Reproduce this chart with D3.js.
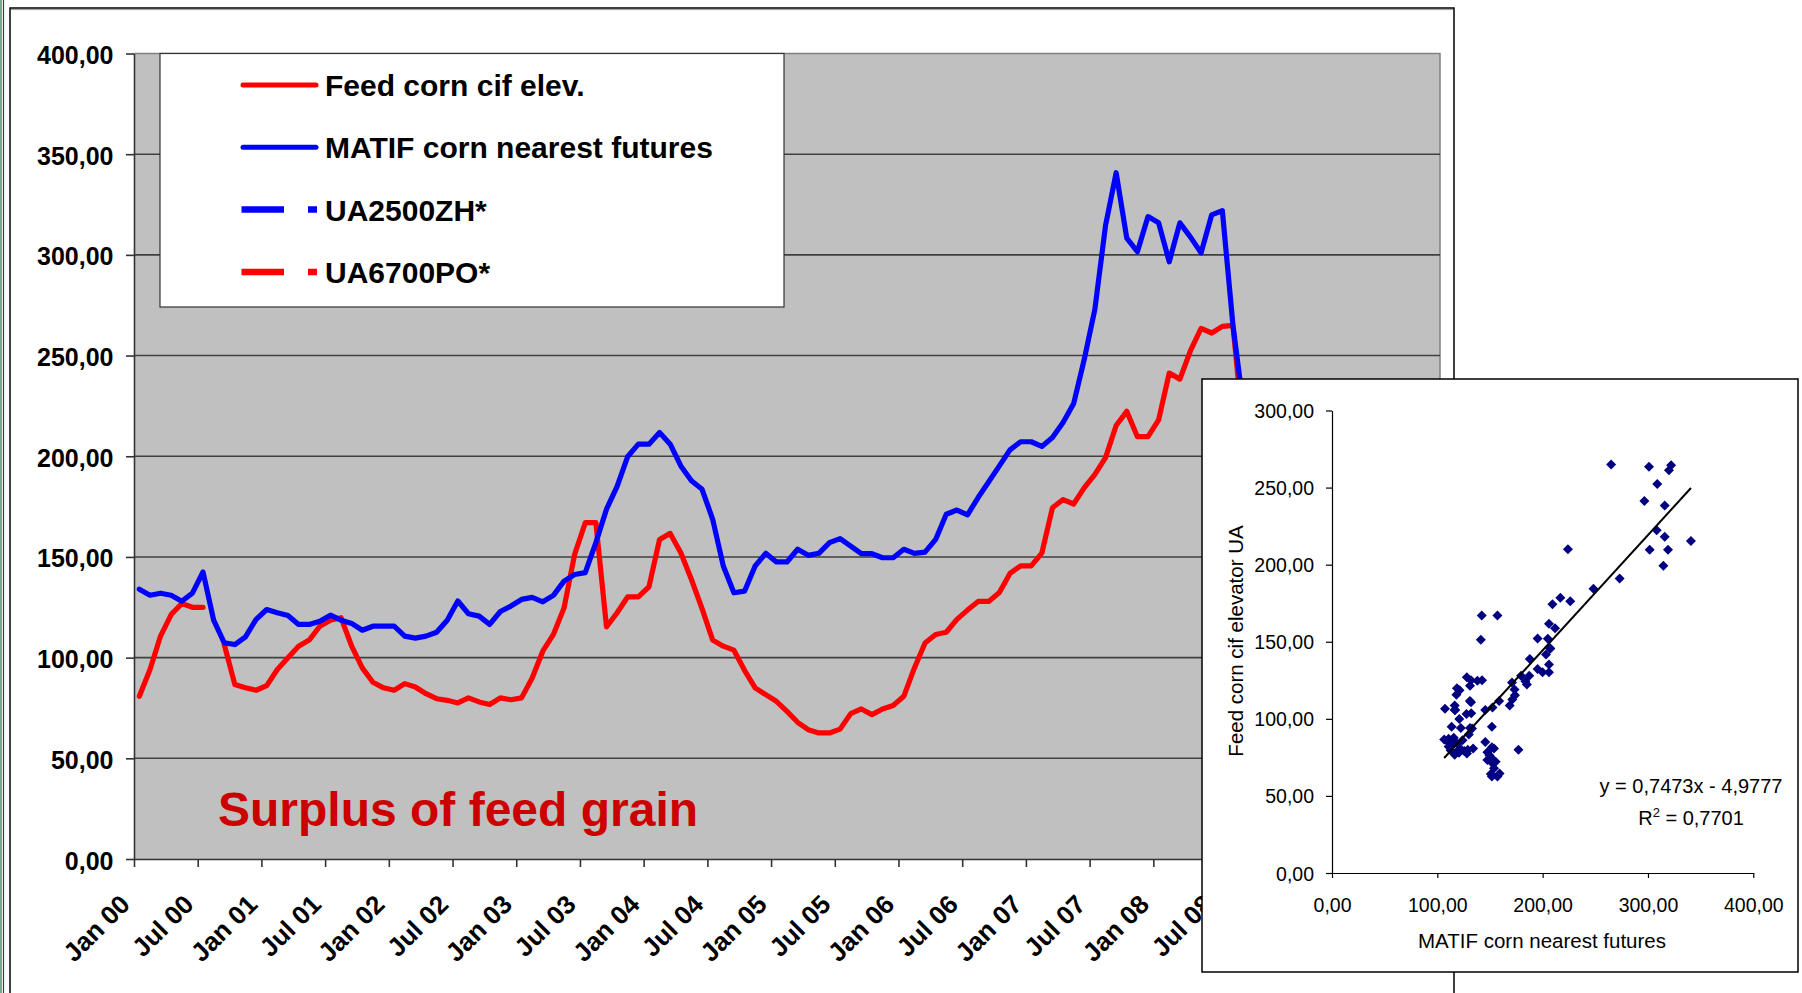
<!DOCTYPE html>
<html><head><meta charset="utf-8">
<script src="https://cdn.jsdelivr.net/npm/d3@7"></script>
<style>body{margin:0;background:#fff}svg{display:block}text{font-family:"Liberation Sans",Arial,sans-serif}</style>
</head><body><svg id="c" width="1802" height="993"></svg>
<script>
// ---------- data ----------
const startMonth = new Date(2000, 0, 1);
const categoryCount = 123; // Jan 00 .. Mar 10 on the category axis
const tickLabels = ["Jan 00","Jul 00","Jan 01","Jul 01","Jan 02","Jul 02","Jan 03","Jul 03","Jan 04","Jul 04",
  "Jan 05","Jul 05","Jan 06","Jul 06","Jan 07","Jul 07","Jan 08","Jul 08","Jan 09","Jul 09","Jan 10"];
const yTicks = [0,50,100,150,200,250,300,350,400];

const matif = [
 134,131,132,131,128,132,142.5,118.6,107.3,106.5,
 110.3,119,123.9,122.3,120.9,116.5,116.5,118.1,121.1,118.6,
 117,113.6,115.6,115.6,115.6,110.7,109.7,110.7,112.6,118.6,
 128.1,121.8,120.6,116.5,122.9,125.6,128.9,129.9,127.7,130.9,
 138,141.3,142.2,157.1,173.7,185,199.9,206,206,211.8,
 206,195.2,187.8,183.6,168.7,145.5,132.2,133,145.5,151.8,
 147.5,147.5,153.8,150.8,151.8,157.1,159.1,155.4,151.6,151.6,
 149.6,149.6,153.8,151.8,152.4,158.7,171.2,173.3,170.9,179.5,
 187.3,195.2,203.2,207.2,207.2,204.9,209.3,216.8,226.2,248.2,
 273.1,314.6,340.8,308.3,301.6,319,315.9,296.6,315.9,308.8,
 301,319.9,322,265,224,177];

const feedCorn = [
 80.8,94,110.7,121.4,126.9,125,125,null,106.5,86.6,
 85,83.8,86.1,94.1,99.9,105.7,108.7,115.6,118.6,119.8,
 105.7,94.9,87.8,85,83.8,87.1,85.4,82.1,79.6,78.8,
 77.5,80,78,76.7,80,79.1,80,89.9,103.2,111.5,
 124.7,151.3,167,167,115.3,122.3,130.2,130.2,135.2,158.7,
 161.7,152.1,138.8,124.3,108.7,105.7,103.7,93.7,85,81.6,
 78.3,73.3,67.9,64.2,62.6,62.6,64.5,72.2,74.5,71.7,
 74.5,76.2,80.8,94.9,107.3,111.5,112.6,119,123.6,127.9,
 127.9,132.3,141.8,145.6,145.6,151.9,174.4,178.5,176.3,184.4,
 191,199.3,215.3,222.3,209.7,209.7,218.1,241.3,238.3,252.4,
 263.5,261.2,264.5,265,210,80];

const legendNames = ["Feed corn cif elev.","MATIF corn nearest futures","UA2500ZH*","UA6700PO*"];
const legendColors = ["#ff0000","#0000ff","#0000ff","#ff0000"];
const legendDashed = [false,false,true,true];

const insetXTicks = [0,100,200,300,400];
const insetYTicks = [0,50,100,150,200,250,300];
const trendSlope = 0.7473, trendIntercept = -4.9777, trendR2 = 0.7701;

// ---------- helpers ----------
const svg = d3.select("#c");
const comma = (v, p) => d3.format("." + p + "f")(v).replace(".", ",");
const FONT = '"Liberation Sans",Arial,sans-serif';

// outer decorations
svg.append("line").attr("x1",1).attr("x2",1).attr("y1",0).attr("y2",993).attr("stroke","#2f7d5a").attr("stroke-width",1.3);
svg.append("line").attr("x1",3.5).attr("x2",3.5).attr("y1",0).attr("y2",993).attr("stroke","#174f36").attr("stroke-width",1.2);
svg.append("rect").attr("x",10).attr("y",8).attr("width",1444).attr("height",1010)
  .attr("fill","#fff").attr("stroke","#000").attr("stroke-width",1.5);
svg.append("line").attr("x1",11).attr("x2",1453).attr("y1",9.6).attr("y2",9.6).attr("stroke","#999").attr("stroke-width",1);

// ---------- main chart ----------
const categories = d3.timeMonth.range(startMonth, d3.timeMonth.offset(startMonth, categoryCount));
const x = d3.scaleBand().domain(d3.range(categories.length)).range([134, 1440]).padding(0);
const xb = d3.scaleLinear().domain([0, categories.length]).range([134, 1440]);
const xc = i => x(i) + x.bandwidth() / 2;
const y = d3.scaleLinear().domain([0, 400]).range([859, 53.5]);

svg.append("rect").attr("x",134).attr("y",y(400)).attr("width",1306).attr("height",y(0)-y(400)).attr("fill","#c0c0c0");
svg.append("path").attr("d",`M134,${y(400)}H1440V${y(0)}`).attr("fill","none").attr("stroke","#808080").attr("stroke-width",1.5);

svg.append("g").selectAll("line").data(yTicks.filter(d => d > 0 && d < 400)).join("line")
  .attr("x1",134).attr("x2",1440).attr("y1",d=>y(d)).attr("y2",d=>y(d))
  .attr("stroke","#404040").attr("stroke-width",1.6);

// lines
const lineGen = vals => d3.line().defined(d => d != null).x((d,i) => xc(i)).y(d => y(d))(vals);
svg.append("path").attr("d", lineGen(feedCorn)).attr("fill","none").attr("stroke","#ff0000")
  .attr("stroke-width",5.2).attr("stroke-linejoin","round").attr("stroke-linecap","round");
svg.append("path").attr("d", lineGen(matif)).attr("fill","none").attr("stroke","#0000ff")
  .attr("stroke-width",5.2).attr("stroke-linejoin","round").attr("stroke-linecap","round");

// y axis
const yAxis = svg.append("g").attr("transform","translate(134,0)")
  .call(d3.axisLeft(y).tickValues(yTicks).tickSize(8).tickSizeOuter(0).tickFormat(d => comma(d,2)));
yAxis.select(".domain").attr("stroke","#333").attr("stroke-width",1.6);
yAxis.selectAll(".tick line").attr("stroke","#333").attr("stroke-width",1.6);
yAxis.selectAll(".tick text").attr("x",-20.5).attr("dy","0.4em")
  .style("font-family",FONT).style("font-size","25px").style("font-weight","bold").attr("fill","#000");

// x axis
const xAxis = svg.append("g").attr("transform","translate(0,859)")
  .call(d3.axisBottom(xb).tickValues(d3.range(0, categories.length, 6)).tickSize(8).tickSizeOuter(0)
    .tickFormat(d => tickLabels[d / 6]));
xAxis.select(".domain").attr("stroke","#333").attr("stroke-width",1.6);
xAxis.selectAll(".tick line").attr("stroke","#333").attr("stroke-width",1.6);
xAxis.selectAll(".tick text").attr("x",0).attr("y",0).attr("dy",0)
  .attr("transform","translate(-3,47) rotate(-45)").style("text-anchor","end")
  .style("font-family",FONT).style("font-size","26px").style("font-weight","bold").attr("fill","#000");

// legend
const lg = svg.append("g");
lg.append("rect").attr("x",160).attr("y",53.5).attr("width",624).attr("height",253.5)
  .attr("fill","#fff").attr("stroke","#333").attr("stroke-width",1.2);
const rows = lg.selectAll("g.row").data(legendNames).join("g").attr("class","row")
  .attr("transform",(d,i) => `translate(0,${85 + i * 62.3})`);
rows.append("line")
  .each(function(d,i){
    const s = d3.select(this);
    if (legendDashed[i]) {
      s.attr("x1",241.5).attr("x2",317).attr("stroke-width",6.5).attr("stroke-dasharray","42.5,24,9,200").attr("stroke-linecap","butt");
    } else {
      s.attr("x1",243).attr("x2",316).attr("stroke-width",5).attr("stroke-linecap","round");
    }
    s.attr("stroke", legendColors[i]).attr("y1",0).attr("y2",0);
  });
rows.append("text").attr("x",325).attr("y",11).text(d => d)
  .style("font-size","30px").style("font-weight","bold").attr("fill","#000");

// annotation
svg.append("text").attr("x",218).attr("y",826).text("Surplus of feed grain")
  .style("font-size","48px").style("font-weight","bold").attr("fill","#cc0000");

// ---------- inset scatter ----------
svg.append("rect").attr("x",1202).attr("y",379).attr("width",596).attr("height",593)
  .attr("fill","#fff").attr("stroke","#000").attr("stroke-width",1.5);
const x2 = d3.scaleLinear().domain([0,400]).range([1332,1753.3]);
const y2 = d3.scaleLinear().domain([0,300]).range([873,410.5]);

const ax2 = svg.append("g").attr("transform","translate(0,873)")
  .call(d3.axisBottom(x2).tickValues(insetXTicks).tickSize(5).tickSizeOuter(0).tickFormat(d => comma(d,2)));
const ay2 = svg.append("g").attr("transform","translate(1332,0)")
  .call(d3.axisLeft(y2).tickValues(insetYTicks).tickSize(6).tickSizeOuter(0).tickFormat(d => comma(d,2)));
[ax2, ay2].forEach(a => {
  a.select(".domain").attr("stroke","#000").attr("stroke-width",1.2);
  a.selectAll(".tick line").attr("stroke","#000").attr("stroke-width",1.2);
  a.selectAll(".tick text").style("font-family",FONT).style("font-size","19.5px").attr("fill","#000");
});
ax2.selectAll(".tick text").attr("y",38.5).attr("dy",0);
ay2.selectAll(".tick text").attr("x",-18).attr("dy","0.36em");

svg.append("text").attr("transform","translate(1242.5,641) rotate(-90)").attr("text-anchor","middle")
  .text("Feed corn cif elevator UA").style("font-size","20.5px").attr("fill","#000");
svg.append("text").attr("x",1542).attr("y",947.5).attr("text-anchor","middle")
  .text("MATIF corn nearest futures").style("font-size","20.5px").attr("fill","#000");

const pairs = d3.range(matif.length).filter(i => matif[i] != null && feedCorn[i] != null)
  .map(i => [matif[i], feedCorn[i]]);
const r = 5;
svg.append("g").selectAll("path").data(pairs).join("path")
  .attr("d", `M0,${-r}L${r},0L0,${r}L${-r},0Z`)
  .attr("transform", d => `translate(${x2(d[0])},${y2(d[1])})`)
  .attr("fill","#000080");

const [xmin, xmax] = d3.extent(pairs, d => d[0]);
svg.append("line").attr("x1",x2(xmin)).attr("y1",y2(trendSlope*xmin+trendIntercept))
  .attr("x2",x2(xmax)).attr("y2",y2(trendSlope*xmax+trendIntercept))
  .attr("stroke","#000").attr("stroke-width",2);

svg.append("text").attr("x",1691).attr("y",793).attr("text-anchor","middle")
  .text(`y = ${comma(trendSlope,4)}x - ${comma(-trendIntercept,4)}`).style("font-size","20px").attr("fill","#000");
const r2t = svg.append("text").attr("x",1691).attr("y",824.5).attr("text-anchor","middle")
  .style("font-size","20px").attr("fill","#000");
r2t.append("tspan").text("R");
r2t.append("tspan").text("2").attr("dy","-8").style("font-size","13px");
r2t.append("tspan").text(` = ${comma(trendR2,4)}`).attr("dy","8");
</script></body></html>
